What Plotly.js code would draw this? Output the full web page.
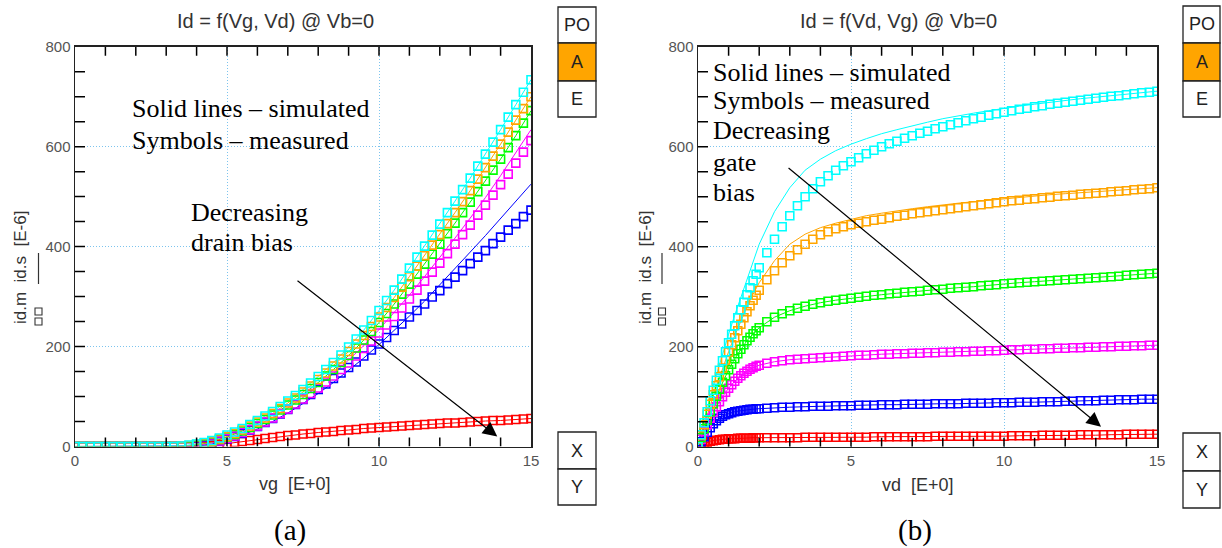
<!DOCTYPE html>
<html>
<head>
<meta charset="utf-8">
<script src="https://cdn.plot.ly/plotly-3.0.1.min.js"></script>
<style>html,body{margin:0;padding:0;background:#fff;}#chart{width:1222px;height:548px;}</style>
</head>
<body>
<div id="chart"></div>
<script>
// ---------- Panel (a): Id vs Vg ----------
const vgMeas = [0,0.25,0.5,0.75,1,1.25,1.5,1.75,2,2.25,2.5,2.75,3,3.25,3.5,3.75,4,4.25,4.5,4.75,5,5.25,5.5,5.75,6,6.25,6.5,6.75,7,7.25,7.5,7.75,8,8.25,8.5,8.75,9,9.25,9.5,9.75,10,10.25,10.5,10.75,11,11.25,11.5,11.75,12,12.25,12.5,12.75,13,13.25,13.5,13.75,14,14.25,14.5,14.75,15];
const aCyanMeas = [0,0,0,0,0,0,0,0,0,0,0,0,0,0,1,3,5,8,12,17,23,29,36,44,52,61,70,80,91,102,114,127,140,154,168,183,199,215,233,252,272,292,313,335,357,379,401,423,445,468,491,514,537,561,585,609,634,659,684,709,734];
const aOrangeMeas = [0,0,0,0,0,0,0,0,0,0,0,0,0,0,0,2,4,7,10,15,20,26,33,41,49,57,66,76,87,97,109,121,134,147,161,175,190,205,222,240,259,278,298,319,340,361,382,403,424,446,468,490,512,535,558,581,605,629,653,676,700];
const aGreenMeas = [0,0,0,0,0,0,0,0,0,0,0,0,0,0,0,1,3,5,9,14,19,24,31,38,46,54,63,73,83,93,104,116,128,141,154,168,182,197,213,230,248,266,285,305,325,345,365,385,405,426,447,468,489,510,531,553,575,598,622,647,672];
const aMagentaMeas = [0,0,0,0,0,0,0,0,0,0,0,0,0,0,0,1,2,4,7,11,16,21,28,34,41,49,57,66,75,85,95,106,117,129,141,154,167,181,196,211,227,243,260,277,295,313,331,349,367,386,405,424,443,463,483,503,524,545,567,589,612];
const aBlueMeas = [0,0,0,0,0,0,0,0,0,0,0,0,0,0,0,0,1,3,6,10,15,20,26,33,40,48,56,65,74,84,94,104,114,125,136,147,158,169,181,193,205,218,232,245,259,272,285,299,312,326,339,352,366,379,392,406,419,433,446,460,473];
const aRedMeas = [0,0,0,0,0,0,0,0,0,0,0,0,0,0,0,0,0,1,2,4,6,8,10,12,14,16,18,20,22,23,25,26,28,29,30,32,33,34,36,37,38,39,40,41,42,43,44,45,46,47,47,48,49,50,51,52,52,53,54,55,56];

const vgSim = [0,0.5,1,1.5,2,2.5,3,3.5,4,4.5,5,5.5,6,6.5,7,7.5,8,8.5,9,9.5,10,10.5,11,11.5,12,12.5,13,13.5,14,14.5,15];
const aCyanSim = [0,0,0,0,0,0,0,1,5,12,23,36,52,70,91,114,140,168,199,233,272,313,357,401,445,491,537,585,634,684,734];
const aOrangeSim = [0,0,0,0,0,0,0,0,4,10,20,33,49,66,87,109,134,161,190,222,259,298,340,382,424,468,512,558,605,653,700];
const aGreenSim = [0,0,0,0,0,0,0,0,3,9,19,31,46,63,83,104,128,154,182,213,248,285,325,365,405,447,489,531,575,622,672];
const aMagentaSim = [0,0,0,0,0,0,0,0,2,7,16,28,42,58,77,98,121,146,173,202,234,268,303,340,378,417,457,498,542,587,634];
const aBlueSim = [0,0,0,0,0,0,0,0,1,5,13,23,35,50,67,86,106,128,152,177,204,232,261,291,323,356,389,422,456,490,525];
const aRedSim = [0,0,0,0,0,0,0,0,0,2,6,10,14,18,22,25,28,30,33,36,38,40,42,44,46,47,49,51,52,54,56];

// ---------- Panel (b): Id vs Vd ----------
const vdMeas = [0,0.1,0.2,0.3,0.4,0.5,0.6,0.7,0.8,0.9,1,1.1,1.2,1.3,1.4,1.5,1.6,1.7,1.8,1.9,2,2.25,2.5,2.75,3,3.25,3.5,3.75,4,4.25,4.5,4.75,5,5.25,5.5,5.75,6,6.25,6.5,6.75,7,7.25,7.5,7.75,8,8.25,8.5,8.75,9,9.25,9.5,9.75,10,10.25,10.5,10.75,11,11.25,11.5,11.75,12,12.25,12.5,12.75,13,13.25,13.5,13.75,14,14.25,14.5,14.75,15];
const bCyanMeas = [0,24,48,70,92,113,133,153,172,190,208,225,242,258,274,289,304,318,332,345,358,388,415,440,462,482,500,516,530,542,553,562,570,578,586,593,600,606,611,617,622,627,631,636,640,644,648,652,656,659,663,666,669,672,675,677,680,682,685,687,689,691,693,695,697,699,701,702,704,706,708,709,711];
const bOrangeMeas = [0,22,44,65,85,104,122,140,157,173,189,204,218,232,245,258,270,282,293,303,313,334,352,368,382,394,405,415,424,430,436,440,444,447,450,453,455,458,461,463,466,468,470,472,474,476,478,480,482,484,486,488,490,492,493,495,496,498,499,501,502,503,505,506,507,508,510,511,512,514,515,516,518];
const bGreenMeas = [0,18,36,53,70,86,101,115,129,142,154,165,176,186,195,204,212,219,226,232,238,250,259,266,272,277,281,285,288,291,293,295,297,299,301,303,304,306,307,309,310,311,313,314,315,317,318,319,320,322,323,324,326,327,328,329,330,331,332,333,334,335,336,337,338,339,340,341,343,344,345,346,347];
const bMagentaMeas = [0,15,30,44,57,69,80,90,100,109,117,124,131,137,142,147,151,155,158,161,163,167,170,172,174,175,176,177,178,179,180,181,182,183,183,184,185,185,186,186,187,187,188,188,189,189,190,190,191,191,192,192,193,194,194,195,195,196,196,197,197,198,198,199,199,200,200,201,201,202,202,203,203];
const bBlueMeas = [0,10,20,29,38,46,52,57,61,64,66,68,70,71,72,73,74,75,75,76,76,77,78,79,79,80,80,81,81,81,82,82,82,83,83,83,84,84,84,85,85,85,85,86,86,86,86,87,87,87,87,88,88,88,89,89,89,90,90,90,91,91,92,92,92,93,93,94,94,94,95,95,95];
const bRedMeas = [0,3,6,9,11,12,13,14,15,15,16,16,16,17,17,17,17,17,18,18,18,18,18,18,18,18,19,19,19,19,19,19,19,19,19,20,20,20,20,20,20,20,20,21,21,21,21,21,21,21,21,21,21,22,22,22,22,23,23,23,23,23,24,24,24,24,24,24,25,25,25,25,25];

const vdSim = [0,0.2,0.4,0.6,0.8,1,1.2,1.4,1.6,1.8,2,2.5,3,3.5,4,4.5,5,5.5,6,6.5,7,7.5,8,8.5,9,9.5,10,10.5,11,11.5,12,12.5,13,13.5,14,14.5,15];
const bCyanSim = [0,50,98,143,185,225,263,298,335,370,405,470,518,553,575,592,605,616,626,634,642,649,656,662,667,672,677,681,685,689,692,696,699,702,705,708,711];
const bOrangeSim = [0,42,82,120,156,190,222,252,280,305,328,372,405,425,438,447,455,462,467,472,476,480,484,487,490,493,496,499,501,504,506,508,510,512,514,516,518];
const bGreenSim = [0,36,70,101,129,154,176,195,212,226,238,259,272,281,288,293,297,301,304,307,310,313,315,318,320,323,326,328,330,332,334,336,338,340,343,345,347];
const bMagentaSim = [0,30,57,80,100,117,131,142,151,158,163,170,174,176,178,180,182,183,185,186,187,188,189,190,191,192,193,194,195,196,197,198,199,200,201,202,203];
const bBlueSim = [0,20,38,52,61,66,70,72,74,75,76,78,79,80,81,82,82,83,84,84,85,85,86,86,87,87,88,89,89,90,91,92,92,93,94,95,95];
const bRedSim = [0,6,11,13,15,16,16,17,17,18,18,18,18,19,19,19,19,19,20,20,20,20,21,21,21,21,21,22,22,22,23,23,23,24,24,24,25];

const seriesColors = ['#ff0000','#0000ff','#ff00ff','#00ff00','#ffa500','#00ffff'];
const panelTitles = ['Id = f(Vg, Vd) @ Vb=0','Id = f(Vd, Vg) @ Vb=0'];
const xTitles = ['vg\u00a0\u00a0[E+0]','vd\u00a0\u00a0[E+0]'];
const yTitle = 'id.m\u00a0\u00a0id.s\u00a0\u00a0[E-6]';
const noteA = ['Solid lines \u2013 simulated','Symbols \u2013 measured','Decreasing','drain bias'];
const noteB = ['Solid lines \u2013 simulated','Symbols \u2013 measured','Decreasing','gate','bias'];
const boxTop = ['PO','A','E'];
const boxBottom = ['X','Y'];

const aMeas = [aRedMeas,aBlueMeas,aMagentaMeas,aGreenMeas,aOrangeMeas,aCyanMeas];
const aSim = [aRedSim,aBlueSim,aMagentaSim,aGreenSim,aOrangeSim,aCyanSim];
const bMeas = [bRedMeas,bBlueMeas,bMagentaMeas,bGreenMeas,bOrangeMeas,bCyanMeas];
const bSim = [bRedSim,bBlueSim,bMagentaSim,bGreenSim,bOrangeSim,bCyanSim];

const W = 1222, H = 548;
const px = v => v / W, py = v => 1 - v / H;
// plot frames in page pixels
const frameA = {l:75, r:531, t:46.7, b:446.5};
const frameB = {l:698, r:1157, t:46.7, b:446.7};

const traces = [];
function addPanel(xm, meas, xs, sim, xa, ya) {
  sim.forEach((s, i) => traces.push({type:'scatter', mode:'lines', x:xs, y:s, xaxis:xa, yaxis:ya,
    line:{color:seriesColors[i], width:1}, hoverinfo:'skip'}));
  meas.forEach((s, i) => traces.push({type:'scatter', mode:'markers', x:xm, y:s, xaxis:xa, yaxis:ya,
    marker:{symbol:'square-open', size:8, color:seriesColors[i], line:{width:1.6, color:seriesColors[i]}}, hoverinfo:'skip'}));
}
addPanel(vgMeas, aMeas, vgSim, aSim, 'x', 'y');
addPanel(vdMeas, bMeas, vdSim, bSim, 'x2', 'y2');

// inward tick marks as a line trace: every 1 V bottom/top, every 50 on the left
function tickTrace(f, xa, ya) {
  const dx = 10 * 15 / (f.r - f.l), dy = 9 * 800 / (f.b - f.t);
  const tx = [], ty = [];
  for (let k = 1; k < 15; k++) {
    tx.push(k, k, null, k, k, null);
    ty.push(0, dy, null, 800, 800 - dy, null);
  }
  for (let v = 50; v < 800; v += 50) {
    tx.push(0, dx, null);
    ty.push(v, v, null);
  }
  traces.push({type:'scatter', mode:'lines', x:tx, y:ty, xaxis:xa, yaxis:ya, connectgaps:false, cliponaxis:false,
    line:{color:'#000', width:1.5}, hoverinfo:'skip'});
}
tickTrace(frameA, 'x', 'y');
tickTrace(frameB, 'x2', 'y2');

const tickFont = {family:'Liberation Sans, Arial, sans-serif', size:15, color:'#555'};
const gridDash = '1px,2px';
function xAxis(f, anchor) {
  return {domain:[px(f.l), px(f.r)], anchor, range:[0,15], tickmode:'linear', tick0:0, dtick:5, ticks:'',
    mirror:true, showline:true, linecolor:'#222', linewidth:1.5,
    showgrid:true, gridcolor:'#7cc4ee', griddash:gridDash, gridwidth:1, zeroline:false, tickfont:tickFont, fixedrange:true};
}
function yAxis(f, anchor) {
  return {domain:[py(f.b), py(f.t)], anchor, range:[0,800], tickmode:'linear', tick0:0, dtick:200, ticks:'',
    mirror:true, showline:true, linecolor:'#222', linewidth:1.5,
    showgrid:true, gridcolor:'#7cc4ee', griddash:gridDash, gridwidth:1, zeroline:false, tickfont:tickFont, fixedrange:true};
}

const annotations = [];
const shapes = [];
const sans = 'Liberation Sans, Arial, sans-serif';
const serif = 'Liberation Serif, Times New Roman, serif';
function txt(text, x, y, size, family, color, extra) {
  annotations.push(Object.assign({text, x:px(x), y:py(y), xref:'paper', yref:'paper', showarrow:false,
    xanchor:'center', yanchor:'middle', font:{family, size, color}}, extra || {}));
}
// titles
txt(panelTitles[0], 275, 21, 20, sans, '#333');
txt(panelTitles[1], 898, 21, 20, sans, '#333');
txt(xTitles[0], 295, 484, 18, sans, '#333');
txt(xTitles[1], 918, 485, 18, sans, '#333');
txt(yTitle, 20, 268, 17, sans, '#333', {textangle:-90});
txt(yTitle, 645, 268, 17, sans, '#333', {textangle:-90});
// y-title legend glyphs: line and squares
[38.5, 662].forEach(lx => {
  shapes.push({type:'line', xref:'paper', yref:'paper', x0:px(lx), x1:px(lx), y0:py(253), y1:py(284), line:{color:'#333', width:1.2}});
  shapes.push({type:'rect', xref:'paper', yref:'paper', x0:px(lx-3.5), x1:px(lx+3.5), y0:py(308), y1:py(315), line:{color:'#333', width:1.1}});
  shapes.push({type:'rect', xref:'paper', yref:'paper', x0:px(lx-3.5), x1:px(lx+3.5), y0:py(318), y1:py(325), line:{color:'#333', width:1.1}});
});
// notes
const noteAPos = [[130,109],[130,140],[189,213],[189,243]];
noteA.forEach((t,i) => txt(t, noteAPos[i][0], noteAPos[i][1], 26, serif, '#000', {xanchor:'left'}));
const noteBY = [72,101,130,162,192];
noteB.forEach((t,i) => txt(t, 711, noteBY[i], 26, serif, '#000', {xanchor:'left'}));
txt('(a)', 290, 530, 29, serif, '#000');
txt('(b)', 915, 530, 29, serif, '#000');
// arrows
annotations.push({x:13.89, y:20, ax:7.27, ay:334, xref:'x', yref:'y', axref:'x', ayref:'y', text:'', showarrow:true,
  arrowhead:2, arrowsize:2.4, arrowwidth:1.2, arrowcolor:'#000'});
annotations.push({x:13.17, y:40, ax:2.91, ay:560, xref:'x2', yref:'y2', axref:'x2', ayref:'y2', text:'', showarrow:true,
  arrowhead:2, arrowsize:2.4, arrowwidth:1.2, arrowcolor:'#000'});
// boxes
function boxes(x0, x1, topYs, botYs) {
  boxTop.forEach((t,i) => {
    shapes.push({type:'rect', xref:'paper', yref:'paper', x0:px(x0), x1:px(x1), y0:py(topYs[i+1]), y1:py(topYs[i]),
      line:{color:'#222', width:1.3}, fillcolor: t === 'A' ? '#ffa500' : '#fff'});
    txt(t, (x0+x1)/2, (topYs[i]+topYs[i+1])/2, 18, sans, '#222');
  });
  boxBottom.forEach((t,i) => {
    shapes.push({type:'rect', xref:'paper', yref:'paper', x0:px(x0), x1:px(x1), y0:py(botYs[i+1]), y1:py(botYs[i]),
      line:{color:'#222', width:1.3}, fillcolor:'#fff'});
    txt(t, (x0+x1)/2, (botYs[i]+botYs[i+1])/2, 18, sans, '#222');
  });
}
boxes(558, 596, [7,43,81,117], [432,469,505]);
boxes(1183, 1220, [6,43,81,117], [433,471,508]);

const layout = {
  width:W, height:H, margin:{l:0,r:0,t:0,b:0}, paper_bgcolor:'#fff', plot_bgcolor:'#fff', showlegend:false,
  xaxis: xAxis(frameA, 'y'),
  yaxis: yAxis(frameA, 'x'),
  xaxis2: xAxis(frameB, 'y2'),
  yaxis2: yAxis(frameB, 'x2'),
  annotations, shapes
};
Plotly.newPlot('chart', traces, layout, {staticPlot:true, displayModeBar:false});
</script>
</body>
</html>
